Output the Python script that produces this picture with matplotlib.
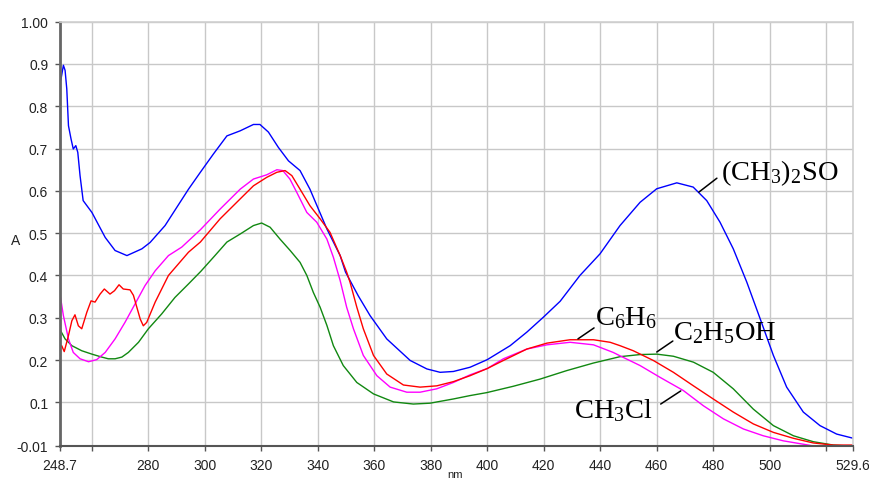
import numpy as np
import matplotlib
matplotlib.use("Agg")
import matplotlib.pyplot as plt

plt.rcParams['font.family'] = ['Liberation Sans', 'DejaVu Sans']
plt.rcParams['mathtext.fontset'] = 'custom'
plt.rcParams['mathtext.rm'] = 'Liberation Serif'
plt.rcParams['mathtext.it'] = 'Liberation Serif:italic'

# ---------------- data (nm, absorbance) ----------------
dmso_nm = [248.7, 249.0, 249.9, 250.5, 251.1, 251.7, 252.6, 253.4, 254.3, 255.0,
           255.8, 256.9, 260.0, 264.7, 268.2, 272.4, 277.7, 280.6, 285.9, 294.2,
           298.4, 303.0, 307.8, 312.5, 317.2, 319.5, 322.5, 326.0, 329.6, 333.7,
           337.2, 340.2, 343.2, 347.9, 349.8, 354.3, 358.5, 364.4, 372.7, 378.6,
           383.3, 388.0, 393.9, 400.0, 408.1, 414.0, 419.8, 425.8, 432.8, 439.9,
           447.0, 454.1, 460.0, 467.1, 472.9, 477.7, 482.4, 487.1, 491.9, 496.6,
           501.3, 506.0, 511.9, 517.8, 523.7, 529.6]
dmso_a = [0.870, 0.862, 0.897, 0.885, 0.841, 0.754, 0.723, 0.699, 0.707, 0.691,
          0.636, 0.577, 0.549, 0.490, 0.459, 0.447, 0.463, 0.478, 0.518, 0.604,
          0.644, 0.687, 0.730, 0.742, 0.757, 0.757, 0.739, 0.703, 0.671, 0.648,
          0.604, 0.557, 0.510, 0.447, 0.408, 0.352, 0.305, 0.250, 0.199, 0.179,
          0.171, 0.173, 0.183, 0.201, 0.234, 0.266, 0.301, 0.339, 0.400, 0.451,
          0.518, 0.573, 0.605, 0.619, 0.609, 0.577, 0.526, 0.463, 0.384, 0.298,
          0.211, 0.136, 0.077, 0.045, 0.025, 0.015]

benz_nm = [248.7, 249.3, 250.2, 251.7, 252.9, 254.0, 255.2, 256.4, 258.2, 259.7,
           261.1, 262.9, 264.4, 266.4, 268.0, 269.6, 271.1, 273.5, 274.7, 275.9,
           277.1, 278.2, 279.4, 282.4, 287.1, 294.2, 298.4, 305.4, 312.5, 317.2,
           321.9, 325.5, 328.4, 330.8, 333.7, 337.2, 340.8, 344.3, 347.9, 350.2,
           351.4, 353.8, 356.1, 359.7, 364.4, 370.3, 376.2, 382.1, 388.0, 393.9,
           400.0, 405.7, 414.0, 421.1, 429.3, 437.6, 443.5, 447.0, 451.7, 458.8,
           465.9, 473.0, 480.0, 487.1, 494.2, 501.3, 508.4, 515.4, 522.5, 529.6]
benz_a = [0.230, 0.234, 0.220, 0.258, 0.293, 0.307, 0.281, 0.274, 0.313, 0.340,
          0.337, 0.356, 0.368, 0.356, 0.364, 0.378, 0.368, 0.366, 0.353, 0.325,
          0.297, 0.281, 0.289, 0.337, 0.400, 0.455, 0.479, 0.534, 0.581, 0.612,
          0.632, 0.644, 0.648, 0.636, 0.604, 0.565, 0.534, 0.502, 0.447, 0.408,
          0.384, 0.325, 0.274, 0.211, 0.167, 0.141, 0.136, 0.139, 0.149, 0.163,
          0.180, 0.199, 0.226, 0.240, 0.248, 0.248, 0.242, 0.234, 0.222, 0.199,
          0.171, 0.139, 0.108, 0.077, 0.049, 0.029, 0.015, 0.004, -0.001, -0.001]

etoh_nm = [248.7, 250.5, 252.9, 256.4, 260.0, 263.5, 265.8, 268.2, 270.6, 272.9,
           276.5, 280.0, 284.7, 289.4, 294.2, 298.6, 303.3, 307.8, 312.5, 317.2,
           320.1, 323.1, 326.6, 330.2, 333.7, 336.1, 338.4, 340.8, 343.2, 345.5,
           349.0, 353.8, 359.7, 366.8, 373.8, 379.7, 388.0, 393.9, 399.8, 409.2,
           418.7, 428.1, 437.6, 447.0, 454.1, 460.0, 465.9, 473.0, 480.0, 487.1,
           494.2, 501.3, 508.4, 515.4, 522.5, 529.6]
etoh_a = [0.272, 0.250, 0.234, 0.222, 0.214, 0.207, 0.203, 0.203, 0.207, 0.218,
          0.242, 0.274, 0.309, 0.348, 0.380, 0.410, 0.445, 0.479, 0.498, 0.518,
          0.524, 0.514, 0.486, 0.459, 0.431, 0.400, 0.360, 0.325, 0.282, 0.234,
          0.187, 0.147, 0.120, 0.101, 0.096, 0.098, 0.108, 0.116, 0.123, 0.138,
          0.155, 0.175, 0.193, 0.208, 0.213, 0.214, 0.209, 0.195, 0.171, 0.132,
          0.084, 0.045, 0.021, 0.007, -0.001, -0.004]

mecl_nm = [248.7, 249.9, 251.7, 253.4, 255.8, 258.8, 261.7, 264.7, 268.2, 271.7,
           275.3, 278.8, 282.4, 287.1, 291.8, 298.4, 305.4, 312.5, 317.2, 321.9,
           325.5, 327.6, 330.1, 332.5, 336.1, 339.6, 343.2, 345.5, 347.9, 350.2,
           352.6, 356.1, 360.9, 365.6, 371.5, 376.2, 382.1, 388.0, 393.9, 400.0,
           405.7, 414.0, 421.1, 429.3, 437.6, 444.6, 447.0, 454.1, 461.2, 469.4,
           476.5, 483.6, 490.7, 497.7, 504.8, 511.9, 515.4]
mecl_a = [0.356, 0.305, 0.250, 0.218, 0.203, 0.196, 0.201, 0.218, 0.250, 0.289,
          0.333, 0.376, 0.411, 0.447, 0.467, 0.508, 0.557, 0.604, 0.628, 0.638,
          0.650, 0.648, 0.628, 0.597, 0.549, 0.526, 0.486, 0.443, 0.388, 0.325,
          0.274, 0.211, 0.163, 0.136, 0.124, 0.124, 0.132, 0.147, 0.165, 0.180,
          0.203, 0.226, 0.236, 0.242, 0.236, 0.218, 0.210, 0.187, 0.159, 0.128,
          0.092, 0.061, 0.037, 0.021, 0.009, 0.001, -0.003]

# axis ticks
x_ticks = [248.7, 260, 280, 300, 320, 340, 360, 380, 400, 420, 440, 460, 480, 500, 520, 529.6]
x_labels = ['248.7', '', '280', '300', '320', '340', '360', '380', '400', '420',
            '440', '460', '480', '500', '', '529.6']
y_ticks = [-0.0025, 0.1, 0.2, 0.3, 0.4, 0.5, 0.6, 0.7, 0.8, 0.9, 1.0]
y_labels = ['-0.01', '0.1', '0.2', '0.3', '0.4', '0.5', '0.6', '0.7', '0.8', '0.9', '1.00']

# labels: text, text position, leader line start, leader line end (data coords)
names = [r'(CH$_3$)$_2$SO', r'C$_6$H$_6$', r'C$_2$H$_5$OH', r'CH$_3$Cl']
name_pos = [(482.6, 0.628), (438.3, 0.285), (465.8, 0.250), (430.8, 0.066)]
line_from = [(481.3, 0.630), (437.8, 0.276), (465.7, 0.245), (461.4, 0.096)]
line_to = [(474.9, 0.597), (432.1, 0.250), (460.0, 0.219), (468.5, 0.127)]

# ---------------- plotting ----------------
fig = plt.figure(figsize=(8.7, 4.81), dpi=100)
ax = fig.add_axes([60/870, 1-446.7/481, (853.3-60)/870, (446.7-22.7)/481])

ax.plot(dmso_nm, dmso_a, color='#0000ff', lw=1.0)
ax.plot(etoh_nm, etoh_a, color='#118811', lw=1.0)
ax.plot(mecl_nm, mecl_a, color='#ff00ff', lw=1.0)
ax.plot(benz_nm, benz_a, color='#ff0000', lw=1.0)

ax.set_xlim(248.7, 529.6)
ax.set_ylim(-0.0025, 1.0)
ax.set_xticks(x_ticks)
ax.set_xticklabels(x_labels)
ax.set_yticks(y_ticks)
ax.set_yticklabels(y_labels)
ax.set_axisbelow(True)
ax.grid(True, color='#c8c8c8', lw=1.0)

ax.tick_params(axis='both', labelsize=10, colors='#222222', length=3.5, width=1, pad=5)
ax.tick_params(axis='both', color='#555555')
for s in ['top', 'right']:
    ax.spines[s].set_color('#d0d0d0')
    ax.spines[s].set_linewidth(1.2)
ax.spines['left'].set_color('#666666')
ax.spines['left'].set_linewidth(2.0)
ax.spines['bottom'].set_color('#555555')
ax.spines['bottom'].set_linewidth(1.5)

for name, p, a, b in zip(names, name_pos, line_from, line_to):
    ax.text(p[0], p[1], name, fontsize=20.5, family='Liberation Serif',
            ha='left', va='baseline', color='black')
    ax.annotate('', xy=b, xytext=a,
                arrowprops=dict(arrowstyle='-', color='black', lw=1.1,
                                shrinkA=0, shrinkB=0))

fig.text(16/870, 1-241/481, 'A', fontsize=10, ha='center', va='center', color='#222222')
fig.text(455/870, 1-475/481, 'nm', fontsize=8, ha='center', va='center', color='#222222')

fig.savefig('out.png', dpi=100)
